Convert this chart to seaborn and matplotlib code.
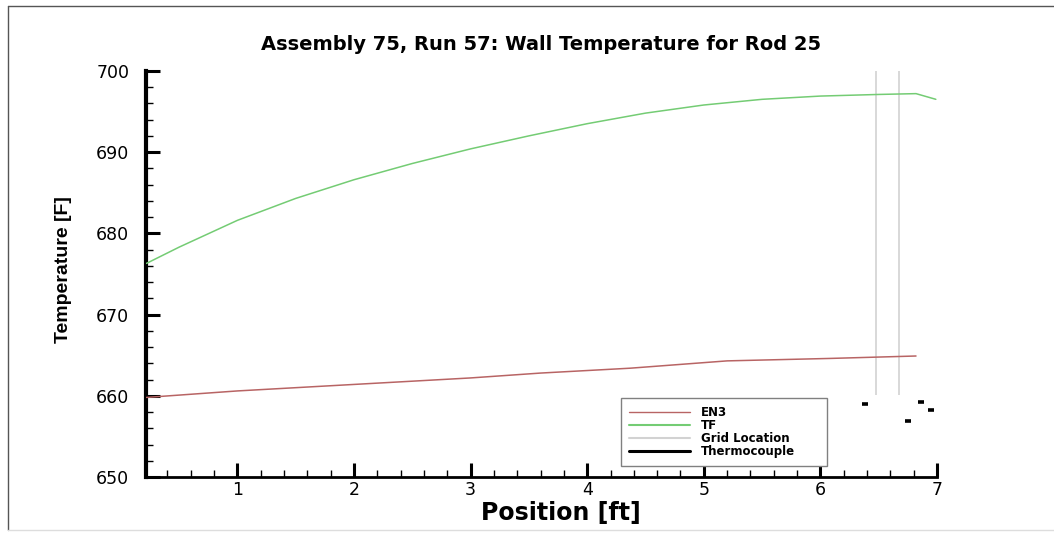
import numpy as np
import pandas as pd
import matplotlib
matplotlib.use("Agg")
import matplotlib.pyplot as plt
from matplotlib.lines import Line2D
from matplotlib.ticker import MultipleLocator
import seaborn as sns

# =================================================================
# Wall temperature along rod 25
# =================================================================

# EN3 wall temperature [F] vs position [ft]
en3_pos = [0.22, 1.0, 2.0, 3.0, 3.6, 4.37, 5.2, 6.08, 6.82]
en3_temp = [659.8, 660.6, 661.4, 662.2, 662.8, 663.4, 664.3, 664.6, 664.9]

# TF wall temperature [F] vs position [ft]
tf_pos = [0.22, 0.5, 1.0, 1.5, 2.0, 2.5, 3.0, 3.5, 4.0, 4.5, 5.0, 5.5, 6.0, 6.5, 6.82, 6.99]
tf_temp = [676.3, 678.3, 681.6, 684.3, 686.6, 688.6, 690.4, 692.0, 693.5, 694.8,
           695.8, 696.5, 696.9, 697.1, 697.2, 696.5]

# grid spacer locations [ft]
grid_pos = [6.48, 6.67]
grid_span = (660.1, 700.0)

# thermocouple readings
tc_pos = [6.38, 6.75, 6.86, 6.95]
tc_temp = [659.0, 656.9, 659.25, 658.3]

x_ticks = [1, 2, 3, 4, 5, 6, 7]
y_ticks = [650, 660, 670, 680, 690, 700]

EN3_COLOR = "#b86464"
TF_COLOR = "#74cc74"
GRID_COLOR = "#d2d2d2"


def make_plot(save_path="out.png"):
    sns.set_style("ticks")
    plt.rcParams["font.family"] = ["DejaVu Sans"]
    plt.rcParams["text.color"] = "black"
    plt.rcParams["axes.labelcolor"] = "black"
    plt.rcParams["xtick.color"] = "black"
    plt.rcParams["ytick.color"] = "black"

    fig = plt.figure(figsize=(10.54, 5.33), dpi=100)
    ax = fig.add_axes([0.1385, 0.105, 0.7505, 0.762])

    en3 = pd.DataFrame({"pos": en3_pos, "temp": en3_temp})
    tf = pd.DataFrame({"pos": tf_pos, "temp": tf_temp})

    for gx in grid_pos:
        ax.vlines(gx, grid_span[0], grid_span[1], color=GRID_COLOR, lw=1.2, zorder=1)

    sns.lineplot(data=en3, x="pos", y="temp", color=EN3_COLOR, lw=1.1, ax=ax, zorder=3)
    sns.lineplot(data=tf, x="pos", y="temp", color=TF_COLOR, lw=1.1, ax=ax, zorder=3)
    sns.scatterplot(x=tc_pos, y=tc_temp, marker="_", s=22, linewidths=2.6,
                    color="black", ax=ax, zorder=4)

    ax.set_xlim(0.216, 7.0)
    ax.set_ylim(650, 700)
    ax.set_xticks(x_ticks)
    ax.set_yticks(y_ticks)
    ax.xaxis.set_minor_locator(MultipleLocator(0.2))
    ax.yaxis.set_minor_locator(MultipleLocator(2))

    sns.despine(ax=ax)
    ax.spines["left"].set_linewidth(3)
    ax.spines["bottom"].set_linewidth(2)
    ax.spines["left"].set_color("black")
    ax.spines["bottom"].set_color("black")

    ax.tick_params(axis="both", which="major", direction="in", length=10, width=2.2,
                   labelsize=12.5)
    ax.tick_params(axis="both", which="minor", direction="in", length=5, width=1)
    ax.tick_params(axis="y", which="major", pad=12)
    ax.tick_params(axis="x", which="major", pad=3)

    ax.set_xlabel("Position [ft]", fontsize=17, fontweight="bold")
    ax.xaxis.set_label_coords(0.525, -0.06)
    ax.set_ylabel("Temperature [F]", fontsize=14, fontweight="bold",
                  family=["Liberation Sans", "DejaVu Sans"])
    ax.yaxis.set_label_coords(-0.094, 0.512)
    ax.set_title("Assembly 75, Run 57: Wall Temperature for Rod 25",
                 fontsize=14, fontweight="bold", pad=15)

    handles = [
        Line2D([], [], color=EN3_COLOR, lw=1),
        Line2D([], [], color=TF_COLOR, lw=1.5),
        Line2D([], [], color=GRID_COLOR, lw=1.5),
        Line2D([], [], color="black", lw=2.2),
    ]
    labels = ["EN3", "TF", "Grid Location", "Thermocouple"]
    leg = ax.legend(handles, labels, loc="lower left",
                    bbox_to_anchor=(0.600, 0.027, 0.261, 0.145), mode="expand",
                    frameon=True, fancybox=False, framealpha=1, edgecolor="#808080",
                    prop={"size": 8.5, "weight": "bold"}, handlelength=5.2,
                    labelspacing=0.0, borderpad=0.7, handletextpad=0.9,
                    borderaxespad=0)
    leg.get_frame().set_linewidth(1.0)

    # outer frame of the original screenshot
    fig.add_artist(Line2D([0.0076, 0.0076], [0.006, 0.989], color="#555555", lw=1))
    fig.add_artist(Line2D([0.0076, 1.0], [0.989, 0.989], color="#555555", lw=1))
    fig.add_artist(Line2D([0.0076, 1.0], [0.006, 0.006], color="#dddddd", lw=1))

    fig.savefig(save_path, dpi=100)
    plt.close(fig)


if __name__ == "__main__":
    make_plot()
